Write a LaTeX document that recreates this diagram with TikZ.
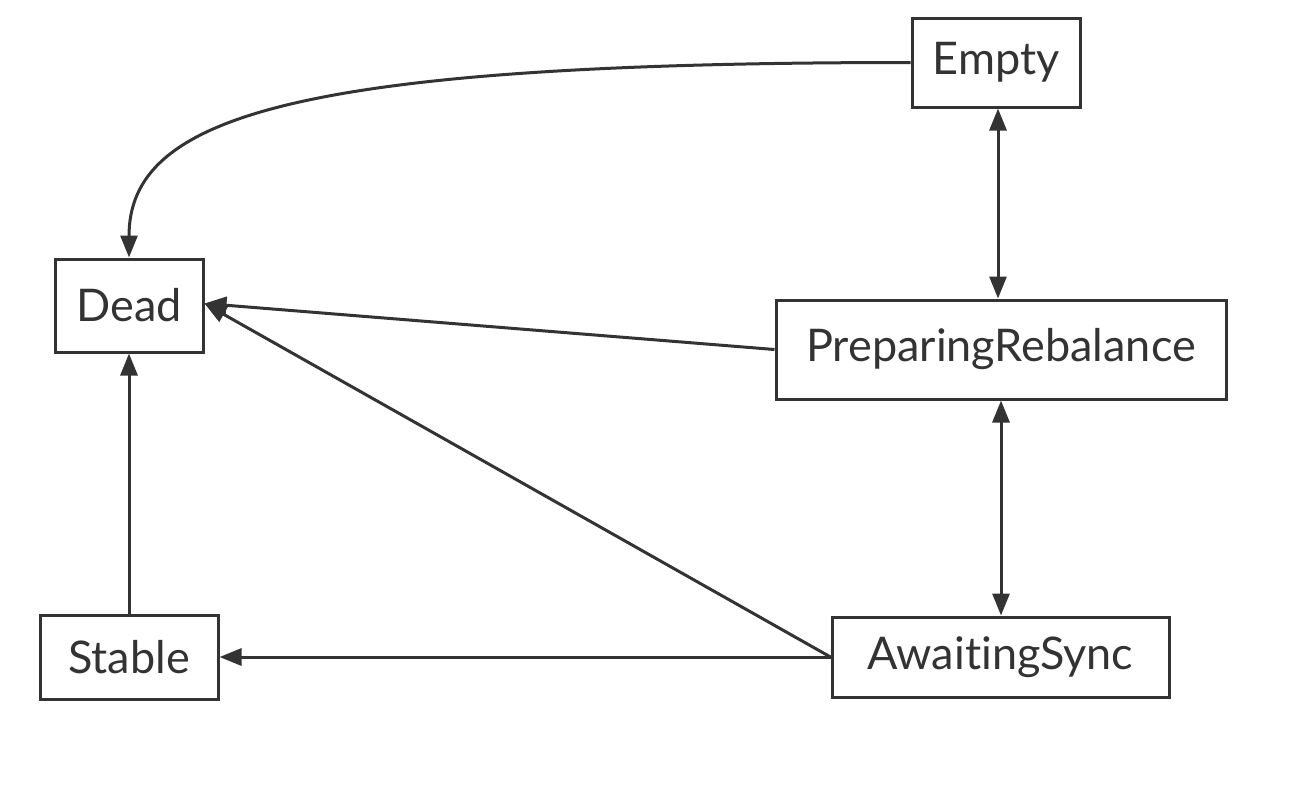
\documentclass[tikz,border=0pt]{standalone}
\usepackage{fontspec}
\setmainfont{Lato}[Ligatures={NoCommon}]
\usetikzlibrary{arrows.meta}
\definecolor{ink}{HTML}{333333}
\begin{document}
\begin{tikzpicture}[x=1pt,y=-1pt,
  state/.style={draw=ink, line width=3pt, text=ink, inner sep=0pt,
    font=\fontsize{45}{54}\selectfont},
  link/.style={draw=ink, line width=3pt, -{Triangle[length=22pt,width=17pt]}},
  both/.style={link, {Triangle[length=22pt,width=17pt]}-{Triangle[length=22pt,width=17pt]}}]
\useasboundingbox (0,0) rectangle (1298,788);
% states
\node[state, minimum width=168pt, minimum height=89pt] (empty) at (996,62.5) {Empty};
\node[state, minimum width=148pt, minimum height=93pt] (dead) at (129,305.5) {Dead};
\node[state, minimum width=450pt, minimum height=99pt] (prep) at (1001,349.5) {PreparingRebalance};
\node[state, minimum width=178pt, minimum height=84pt] (stable) at (129,657) {Stable};
\node[state, minimum width=337pt, minimum height=80pt] (await) at (1000.5,657) {AwaitingSync};

% transitions
\draw[both] ([xshift=2pt]empty.south) -- ([xshift=2pt]empty.south |- prep.north);
\draw[both] (prep.south) -- (prep.south |- await.north);
\draw[link] (empty.west) .. controls +(-620,0) and +(0,-140) .. (dead.north);
\draw[link] (prep.west) -- ([yshift=2pt]dead.east);
\draw[link] (await.west) -- ([yshift=2pt]dead.east);
\draw[link] (await.west) -- (stable.east);
\draw[link] (stable.north) -- (dead.south);
\end{tikzpicture}
\end{document}
